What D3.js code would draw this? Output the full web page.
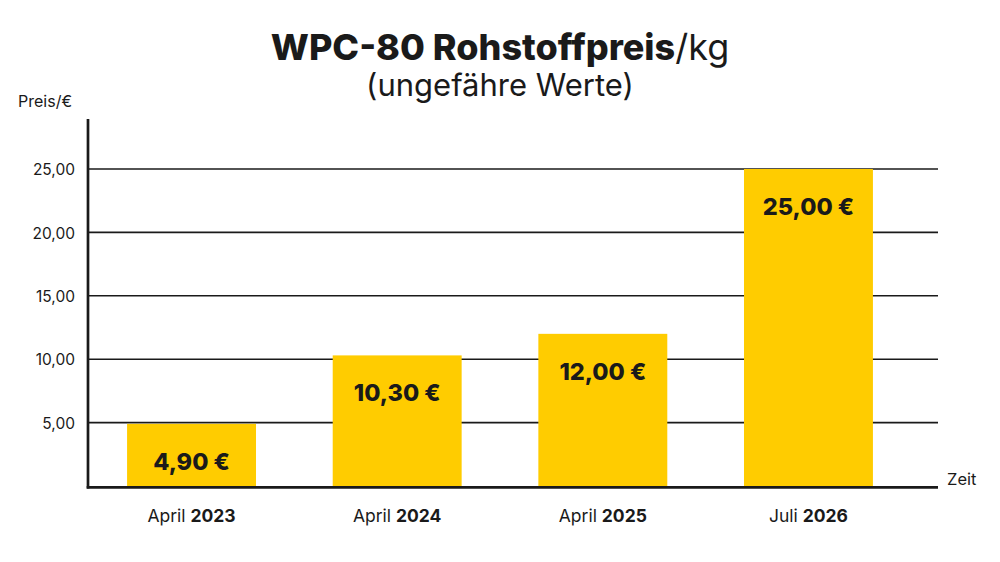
<!DOCTYPE html>
<html lang="de">
<head>
    <meta charset="UTF-8">
    <title>WPC-80 Rohstoffpreis</title>
    <script src="https://d3js.org/d3.v7.min.js"></script>
    <style>
        body {
            margin: 0;
            background: #fff;
            font-family: Inter, "Open Sans", sans-serif;
        }
        svg { display: block; }
        .grid line { stroke: #1a1a1a; stroke-width: 1.6; }
        .tick-label { font-size: 15.5px; fill: #1a1a1a; }
        .cat-label { font-size: 17.5px; fill: #1a1a1a; }
        .bar-label { font-size: 23.5px; font-weight: 800; fill: #1a1a1a; text-anchor: middle; }
    </style>
</head>
<body>
<svg id="chart"></svg>
<script>
    // data
    const months = ["April", "April", "April", "Juli"];
    const years = ["2023", "2024", "2025", "2026"];
    const prices = [4.90, 10.30, 12.00, 25.00];
    const yTicks = [5, 10, 15, 20, 25];

    const width = 1000, height = 562;
    const plotLeft = 88, plotRight = 938, plotTop = 119, plotBottom = 486;

    const svg = d3.select("#chart")
        .attr("width", width)
        .attr("height", height);

    const fmt = v => v.toFixed(2).replace(".", ",");

    const x = d3.scaleBand()
        .domain(years)
        .range([plotLeft, 912])
        .paddingInner(0.373)
        .paddingOuter(0.19);

    const y = d3.scaleLinear()
        .domain([0, 25])
        .range([plotBottom, 169]);

    // title
    const title = svg.append("text")
        .attr("x", width / 2)
        .attr("y", 60)
        .attr("text-anchor", "middle")
        .style("font-size", "36px")
        .style("fill", "#1a1a1a");
    title.append("tspan").style("font-weight", 800).text("WPC-80 Rohstoffpreis");
    title.append("tspan").style("font-weight", 400).text("/kg");

    svg.append("text")
        .attr("x", width / 2)
        .attr("y", 96)
        .attr("text-anchor", "middle")
        .style("font-size", "31px")
        .style("fill", "#1a1a1a")
        .text("(ungefähre Werte)");

    // gridlines
    svg.append("g")
        .attr("class", "grid")
        .selectAll("line")
        .data(yTicks)
        .join("line")
        .attr("x1", plotLeft)
        .attr("x2", plotRight)
        .attr("y1", d => y(d))
        .attr("y2", d => y(d));

    // y tick labels
    svg.append("g")
        .selectAll("text")
        .data(yTicks)
        .join("text")
        .attr("class", "tick-label")
        .attr("x", 75)
        .attr("y", d => y(d))
        .attr("dy", "0.4em")
        .attr("text-anchor", "end")
        .text(fmt);

    // bars
    svg.append("g")
        .selectAll("rect")
        .data(prices)
        .join("rect")
        .attr("x", (d, i) => x(years[i]))
        .attr("width", x.bandwidth())
        .attr("y", d => y(d))
        .attr("height", d => y(0) - y(d))
        .attr("fill", "#ffcc00");

    svg.append("g")
        .selectAll("text")
        .data(prices)
        .join("text")
        .attr("class", "bar-label")
        .attr("x", (d, i) => x(years[i]) + x.bandwidth() / 2)
        .attr("y", d => y(d) + 46)
        .text(d => fmt(d) + " €");

    // axes
    svg.append("line")
        .attr("x1", plotLeft).attr("x2", plotLeft)
        .attr("y1", plotTop).attr("y2", plotBottom + 2.5)
        .attr("stroke", "#1a1a1a")
        .attr("stroke-width", 2.7);

    svg.append("line")
        .attr("x1", plotLeft - 1.3).attr("x2", plotRight)
        .attr("y1", plotBottom + 1.3).attr("y2", plotBottom + 1.3)
        .attr("stroke", "#1a1a1a")
        .attr("stroke-width", 2.8);

    // category labels
    const cat = svg.append("g")
        .selectAll("text")
        .data(years)
        .join("text")
        .attr("class", "cat-label")
        .attr("x", d => x(d) + x.bandwidth() / 2)
        .attr("y", 522)
        .attr("text-anchor", "middle");
    cat.append("tspan").text((d, i) => months[i] + " ");
    cat.append("tspan").style("font-weight", 700).text(d => d);

    // axis titles
    svg.append("text")
        .attr("x", 18)
        .attr("y", 107)
        .style("font-size", "16px")
        .style("fill", "#1a1a1a")
        .text("Preis/€");

    svg.append("text")
        .attr("x", 947)
        .attr("y", 485)
        .style("font-size", "16.5px")
        .style("fill", "#1a1a1a")
        .text("Zeit");
</script>
</body>
</html>
